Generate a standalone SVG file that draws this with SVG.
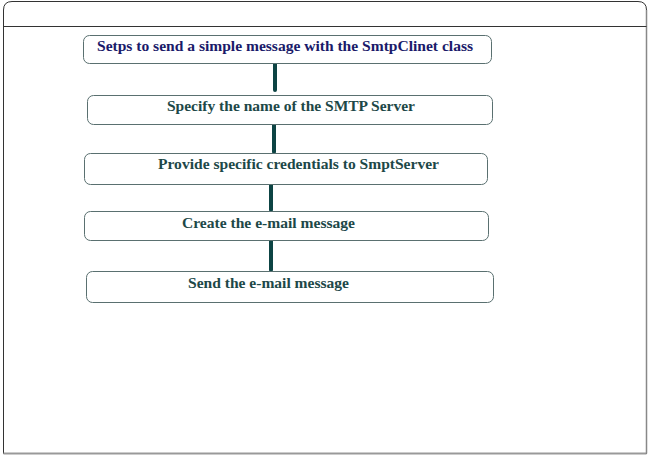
<svg xmlns="http://www.w3.org/2000/svg" width="650" height="456" viewBox="0 0 650 456">
<style>
.box{fill:#fff;stroke:#5a7070;stroke-width:1}
.t{font-family:"Liberation Serif",serif;font-weight:bold;font-size:14px;fill:#1d4848}
.conn{stroke:#0d4444;stroke-width:4;stroke-linecap:round}
</style>
<g id="frame">
<path d="M3.5,453.5 V10 Q3.5,1.5 12,1.5 H638 Q646.5,1.5 646.5,10 V453.5 Z" fill="#fff" stroke="#333" stroke-width="1"/>
<line x1="3.5" y1="453.5" x2="646.5" y2="453.5" stroke="#999" stroke-width="2"/>
<line x1="646.5" y1="10" x2="646.5" y2="453.5" stroke="#888" stroke-width="1.5"/>
<line x1="3.5" y1="26.5" x2="646.5" y2="26.5" stroke="#333" stroke-width="1"/>
</g>
<g id="connectors">
<line class="conn" x1="275" y1="64" x2="275" y2="90"/>
<line class="conn" x1="274" y1="125" x2="274" y2="152"/>
<line class="conn" x1="271" y1="185" x2="271" y2="210"/>
<line class="conn" x1="271" y1="241" x2="271" y2="270"/>
</g>
<g id="n1">
<rect class="box" x="83.5" y="35.5" width="408" height="28" rx="6"/>
<text class="t" x="97" y="51" textLength="376" lengthAdjust="spacingAndGlyphs" style="fill:#1a1a6a">Setps to send a simple message with the SmtpClinet class</text>
</g>
<g id="n2">
<rect class="box" x="87.5" y="95.5" width="405" height="29" rx="6"/>
<text class="t" x="167" y="111" textLength="248" lengthAdjust="spacingAndGlyphs">Specify the name of the SMTP Server</text>
</g>
<g id="n3">
<rect class="box" x="84.5" y="153.5" width="403" height="31" rx="6"/>
<text class="t" x="158" y="169" textLength="281" lengthAdjust="spacingAndGlyphs">Provide specific credentials to SmptServer</text>
</g>
<g id="n4">
<rect class="box" x="84.5" y="211.5" width="404" height="29" rx="6"/>
<text class="t" x="182" y="228" textLength="173" lengthAdjust="spacingAndGlyphs">Create the e-mail message</text>
</g>
<g id="n5">
<rect class="box" x="86.5" y="271.5" width="407" height="31" rx="6"/>
<text class="t" x="188" y="288" textLength="161" lengthAdjust="spacingAndGlyphs">Send the e-mail message</text>
</g>
</svg>
